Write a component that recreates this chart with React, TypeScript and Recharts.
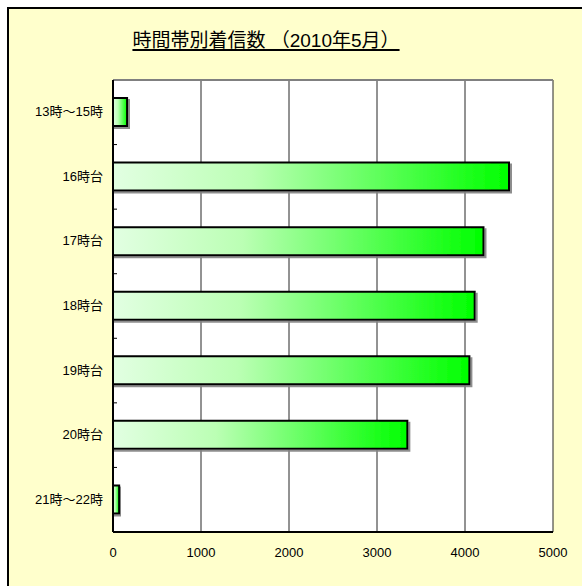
import React from "react";
import { BarChart, Bar, XAxis, YAxis, CartesianGrid } from "recharts";

const categories = ["13時～15時", "16時台", "17時台", "18時台", "19時台", "20時台", "21時～22時"];
const calls = [160, 4500, 4210, 4110, 4050, 3345, 70];
const xTicks = [0, 1000, 2000, 3000, 4000, 5000];
const title = "時間帯別着信数 （2010年5月）";

const data = categories.map((c, i) => ({ name: c, value: calls[i] }));

const CHART_W = 560;
const CHART_H = 570;
const MARGIN = { top: 71, right: 16, bottom: 17, left: 0 };
const Y_W = 104;
const X_H = 30;
const PLOT_H = CHART_H - MARGIN.top - MARGIN.bottom - X_H;
const BAND = PLOT_H / categories.length;

const FONT = "'Liberation Sans', Arial, 'Noto Sans CJK JP', sans-serif";

const YTick = (props: any) => {
  const { x, y, payload, index } = props;
  const axisX = x + 10;
  return (
    <g>
      <text x={x} y={y} dy={4} textAnchor="end" fontSize={13} fill="#000" fontFamily={FONT}>
        {payload.value}
      </text>
      {index > 0 ? (
        <line x1={axisX} x2={axisX + 4} y1={y - BAND / 2} y2={y - BAND / 2} stroke="#000" strokeWidth={1} />
      ) : null}
    </g>
  );
};

export default function App() {
  return (
    <div
      style={{
        position: "fixed",
        left: 7,
        top: 7,
        width: 575,
        height: 579,
        boxSizing: "border-box",
        background: "#FFFFCC",
        borderLeft: "2px solid #000",
        borderTop: "2px solid #000",
        overflow: "hidden",
      }}
    >
      <div
        style={{
          position: "absolute",
          left: 257,
          top: 16,
          transform: "translateX(-50%)",
          whiteSpace: "nowrap",
          fontFamily: FONT,
          fontSize: 19,
          textDecoration: "underline",
          textDecorationThickness: 2,
          textUnderlineOffset: 2,
          color: "#000",
        }}
      >
        {title}
      </div>
      <BarChart
        width={CHART_W}
        height={CHART_H}
        data={data}
        layout="vertical"
        margin={MARGIN}
        barSize={28}
      >
        <defs>
          <linearGradient id="barGrad" x1="0" y1="0" x2="1" y2="0">
            <stop offset="0%" stopColor="#E2FFE2" />
            <stop offset="35%" stopColor="#BBFFB4" />
            <stop offset="100%" stopColor="#00FF00" />
          </linearGradient>
          <filter id="shadow" x="-10%" y="-10%" width="130%" height="140%">
            <feDropShadow dx="2" dy="2" stdDeviation="0.6" floodColor="#808080" floodOpacity="0.9" />
          </filter>
        </defs>
        <CartesianGrid horizontal={false} vertical={true} stroke="#262626" strokeWidth={1} fill="#FFFFFF" />
        <CartesianGrid
          vertical={false}
          horizontal={true}
          horizontalCoordinatesGenerator={(p: any) => [p.offset.top]}
          stroke="#808080"
          strokeWidth={2}
        />
        <XAxis
          type="number"
          domain={[0, 5000]}
          ticks={xTicks}
          tickLine={false}
          axisLine={{ stroke: "#000", strokeWidth: 2 }}
          height={X_H}
          tickMargin={10}
          tick={{ fontSize: 13, fill: "#000", fontFamily: FONT }}
          interval={0}
        />
        <YAxis
          type="category"
          dataKey="name"
          width={Y_W}
          tickLine={false}
          tickSize={0}
          tickMargin={10}
          axisLine={{ stroke: "#000", strokeWidth: 2 }}
          tick={<YTick />}
          interval={0}
        />
        <YAxis
          yAxisId="right"
          orientation="right"
          type="category"
          dataKey="name"
          width={0}
          tick={false}
          tickLine={false}
          axisLine={{ stroke: "#808080", strokeWidth: 2 }}
        />
        <Bar
          dataKey="value"
          fill="url(#barGrad)"
          stroke="#000"
          strokeWidth={2}
          filter="url(#shadow)"
          isAnimationActive={false}
        />
      </BarChart>
    </div>
  );
}
